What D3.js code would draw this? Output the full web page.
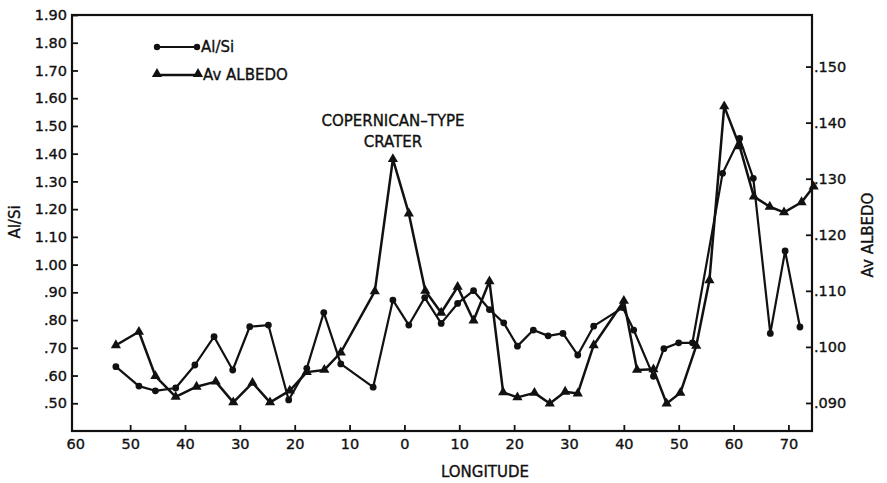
<!DOCTYPE html>
<html>
<head>
<meta charset="utf-8">
<script src="https://cdn.jsdelivr.net/npm/d3@7/dist/d3.min.js"></script>
<style>
  html, body { margin: 0; padding: 0; background: #fff; }
  svg text { font-family: "DejaVu Sans", sans-serif; fill: #111; stroke: #111; stroke-width: 0.35px; }
</style>
</head>
<body>
<svg id="chart" width="887" height="483"></svg>
<script>
// ---- Data (longitude: west negative, east positive) ----
const alsiLon = [-52.6, -48.4, -45.4, -41.7, -38.2, -34.7, -31.3, -28.2, -24.8, -21.1,
                 -17.8, -14.7, -11.6, -5.7, -2.1, 0.8, 3.7, 6.7, 9.7, 12.6,
                 15.5, 18.1, 20.6, 23.5, 26.2, 28.9, 31.6, 34.5, 39.8, 41.8,
                 45.4, 47.3, 50.0, 52.5, 58.0, 61.1, 63.6, 66.7, 69.4, 72.1];
const alsiVal = [0.632, 0.562, 0.545, 0.555, 0.638, 0.740, 0.620, 0.776, 0.782, 0.512,
                 0.626, 0.827, 0.642, 0.558, 0.872, 0.782, 0.881, 0.788, 0.860, 0.906,
                 0.838, 0.790, 0.706, 0.764, 0.743, 0.752, 0.674, 0.778, 0.845, 0.764,
                 0.597, 0.697, 0.718, 0.718, 1.329, 1.455, 1.311, 0.752, 1.049, 0.775];
const albedoLon = [-52.6, -48.4, -45.4, -41.7, -37.9, -34.4, -31.2, -27.7, -24.5, -20.9,
                   -17.8, -14.6, -11.6, -5.4, -2.1, 0.8, 3.8, 6.7, 9.7, 12.6,
                   15.5, 18.0, 20.6, 23.7, 26.5, 29.3, 31.6, 34.5, 40.0, 42.4,
                   45.4, 47.8, 50.3, 53.2, 55.6, 58.3, 61.1, 63.7, 66.6, 69.2,
                   72.4, 74.6];
const albedoVal = [0.1003, 0.1027, 0.0948, 0.0911, 0.0929, 0.0938, 0.0901, 0.0936, 0.0901, 0.0922,
                   0.0955, 0.0959, 0.0990, 0.1099, 0.1335, 0.1238, 0.1100, 0.1061, 0.1107, 0.1047,
                   0.1117, 0.0919, 0.0910, 0.0918, 0.0899, 0.0920, 0.0917, 0.1003, 0.1082, 0.0959,
                   0.0960, 0.0899, 0.0918, 0.1002, 0.1119, 0.1429, 0.1358, 0.1268, 0.1250, 0.1240,
                   0.1258, 0.1286];
const xTicks = [-60, -50, -40, -30, -20, -10, 0, 10, 20, 30, 40, 50, 60, 70];
const leftTicks = [0.5, 0.6, 0.7, 0.8, 0.9, 1.0, 1.1, 1.2, 1.3, 1.4, 1.5, 1.6, 1.7, 1.8, 1.9];
const rightTicks = [0.09, 0.10, 0.11, 0.12, 0.13, 0.14, 0.15];

const alsi = alsiLon.map((lon, i) => ({lon, v: alsiVal[i]}));
const albedo = albedoLon.map((lon, i) => ({lon, v: albedoVal[i]}));

// ---- Layout ----
const L = 72, R = 812, T = 15, B = 431;
const svg = d3.select("#chart");
const x = d3.scaleLinear().domain([-60.6, 74.3]).range([L, R]);
const yL = d3.scaleLinear().domain([0.40, 1.90]).range([B, T]);
const yR = d3.scaleLinear().domain([0.085, 0.1592]).range([B, T]);

const fs = "14.5px";

// Axes
const gx = svg.append("g").attr("transform", `translate(0,${B})`)
  .call(d3.axisBottom(x).tickValues(xTicks).tickSize(-6).tickSizeOuter(0).tickPadding(8)
    .tickFormat(d => Math.abs(d)));
const gl = svg.append("g").attr("transform", `translate(${L},0)`)
  .call(d3.axisLeft(yL).tickValues(leftTicks).tickSize(-6).tickSizeOuter(0).tickPadding(5)
    .tickFormat(d => d3.format(".2f")(d).replace(/^0/, "")));
const gr = svg.append("g").attr("transform", `translate(${R},0)`)
  .call(d3.axisRight(yR).tickValues(rightTicks).tickSize(-6).tickSizeOuter(0).tickPadding(2)
    .tickFormat(d => d3.format(".3f")(d).replace(/^0/, "")));
[gx, gl, gr].forEach(g => {
  g.select(".domain").remove();
  g.selectAll(".tick line").attr("stroke", "#111").attr("stroke-width", 1.8);
  g.selectAll(".tick text").style("font-size", fs).attr("fill", "#111");
});
gx.selectAll(".tick").filter(d => d === -60).select("line").remove();

// Frame
svg.append("rect").attr("x", L).attr("y", T).attr("width", R - L).attr("height", B - T)
  .attr("fill", "none").attr("stroke", "#111").attr("stroke-width", 2.2);

// Lines
const lineA = d3.line().x(d => x(d.lon)).y(d => yL(d.v));
const lineB = d3.line().x(d => x(d.lon)).y(d => yR(d.v));
svg.append("path").datum(alsi).attr("d", lineA).attr("fill", "none")
  .attr("stroke", "#111").attr("stroke-width", 2.2).attr("stroke-linejoin", "round");
svg.append("path").datum(albedo).attr("d", lineB).attr("fill", "none")
  .attr("stroke", "#111").attr("stroke-width", 2.5).attr("stroke-linejoin", "round");

const tri = d3.symbol().type(d3.symbolTriangle).size(45);
svg.append("g").selectAll("circle").data(alsi).join("circle")
  .attr("cx", d => x(d.lon)).attr("cy", d => yL(d.v)).attr("r", 3.4).attr("fill", "#111");
svg.append("g").selectAll("path").data(albedo).join("path")
  .attr("d", tri).attr("transform", d => `translate(${x(d.lon)},${yR(d.v)})`).attr("fill", "#111");

// Legend
svg.append("line").attr("x1", 157).attr("x2", 197).attr("y1", 47).attr("y2", 47)
  .attr("stroke", "#111").attr("stroke-width", 2);
[157, 197].forEach(cx => svg.append("circle").attr("cx", cx).attr("cy", 47).attr("r", 3.2).attr("fill", "#111"));
svg.append("text").attr("x", 201).attr("y", 52).style("font-size", "15px").text("Al/Si");
svg.append("line").attr("x1", 157).attr("x2", 198).attr("y1", 75).attr("y2", 75)
  .attr("stroke", "#111").attr("stroke-width", 2.5);
[157, 198].forEach(cx => svg.append("path").attr("d", tri).attr("transform", `translate(${cx},74)`).attr("fill", "#111"));
svg.append("text").attr("x", 203).attr("y", 80).style("font-size", "15px").text("Av ALBEDO");

// Annotation
svg.append("text").attr("x", 393).attr("y", 126).attr("text-anchor", "middle").style("font-size", "15px").text("COPERNICAN–TYPE");
svg.append("text").attr("x", 393).attr("y", 147).attr("text-anchor", "middle").style("font-size", "15px").text("CRATER");

// Axis titles
svg.append("text").attr("x", 485).attr("y", 477).attr("text-anchor", "middle").style("font-size", "15px").text("LONGITUDE");
svg.append("text").attr("transform", "translate(20,222) rotate(-90)").attr("text-anchor", "middle")
  .style("font-size", "15px").text("Al/Si");
svg.append("text").attr("transform", "translate(873,235) rotate(-90)").attr("text-anchor", "middle")
  .style("font-size", "15px").text("Av ALBEDO");
</script>
</body>
</html>
